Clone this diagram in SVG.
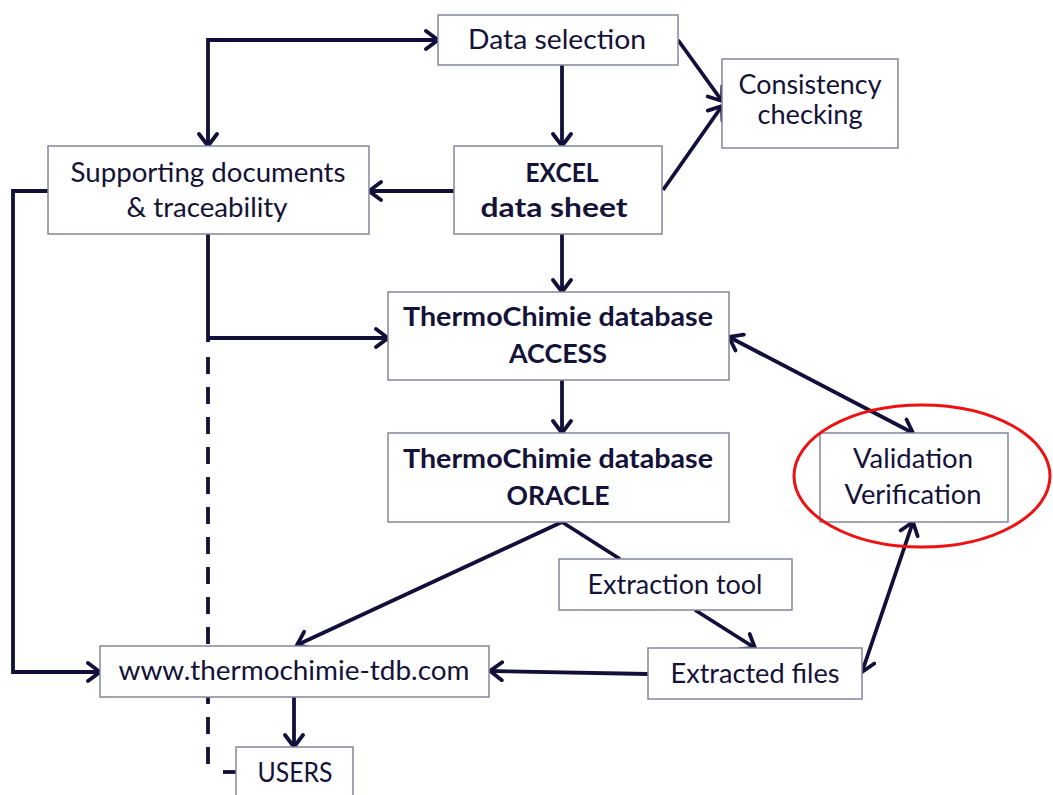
<svg xmlns="http://www.w3.org/2000/svg" width="1053" height="795" viewBox="0 0 1053 795">
<style>
.box{fill:#ffffff;stroke:#85859f;stroke-width:1.5}
.t{font-family:Lato,"Liberation Sans",sans-serif;font-size:26px;fill:#141238;text-anchor:middle}
.b{font-weight:bold}
.c{fill:none;stroke:#120f3a;stroke-width:3.8}
.d{fill:none;stroke:#120f3a;stroke-width:3.8;stroke-dasharray:17 13}
</style>
<defs>
<marker id="arr" viewBox="0 0 16 22" refX="14" refY="11" markerWidth="16" markerHeight="22" markerUnits="userSpaceOnUse" orient="auto-start-reverse">
<path d="M2,2 L14,11 L2,20" fill="none" stroke="#120f3a" stroke-width="3.8" stroke-linecap="round" stroke-linejoin="miter"/>
</marker>
</defs>
<g id="connectors">
<path class="d" d="M208,357 V770"/>
<path class="c" d="M223,772 H238"/>
<path class="c" d="M208,146 V40 H438" marker-start="url(#arr)" marker-end="url(#arr)"/>
<path class="c" d="M562,65 V146" marker-end="url(#arr)"/>
<path class="c" d="M678,40 L722,101" marker-end="url(#arr)"/>
<path class="c" d="M663,190 L722,106" marker-end="url(#arr)"/>
<path class="c" d="M454,191 H369" marker-end="url(#arr)"/>
<path class="c" d="M562,234 V292" marker-end="url(#arr)"/>
<path class="c" d="M208,234 V342"/>
<path class="c" d="M208,338 H388" marker-end="url(#arr)"/>
<path class="c" d="M48,191 H13 V672 H100" marker-end="url(#arr)"/>
<path class="c" d="M562,380 V433" marker-end="url(#arr)"/>
<path class="c" d="M729,337 L913,433" marker-start="url(#arr)" marker-end="url(#arr)"/>
<path class="c" d="M562,522 L297,645" marker-end="url(#arr)"/>
<path class="c" d="M562,522 L620,559"/>
<path class="c" d="M695,610 L755,648" marker-end="url(#arr)"/>
<path class="c" d="M648,674 L490,671" marker-end="url(#arr)"/>
<path class="c" d="M913,522 L862,672" marker-start="url(#arr)" marker-end="url(#arr)"/>
<path class="c" d="M294,697 V747" marker-end="url(#arr)"/>
</g>
<g id="data-selection"><rect class="box" x="438" y="15" width="240" height="50"/><text class="t" x="557" y="49" textLength="178" lengthAdjust="spacingAndGlyphs">Data selection</text></g>
<g id="consistency"><rect class="box" x="722" y="59" width="176" height="89"/><text class="t" x="810" y="94" textLength="143" lengthAdjust="spacingAndGlyphs">Consistency</text><text class="t" x="810" y="124" textLength="105" lengthAdjust="spacingAndGlyphs">checking</text></g>
<g id="supporting"><rect class="box" x="48" y="146" width="321" height="88"/><text class="t" x="208" y="182" textLength="275" lengthAdjust="spacingAndGlyphs">Supporting documents</text><text class="t" x="207" y="217" textLength="161" lengthAdjust="spacingAndGlyphs">&amp; traceability</text></g>
<g id="excel"><rect class="box" x="454" y="146" width="208" height="88"/><text class="t b" x="562" y="182" textLength="73" lengthAdjust="spacingAndGlyphs">EXCEL</text><text class="t b" x="554" y="217" textLength="147" lengthAdjust="spacingAndGlyphs">data sheet</text></g>
<g id="access"><rect class="box" x="388" y="292" width="341" height="88"/><text class="t b" x="558" y="326" textLength="310" lengthAdjust="spacingAndGlyphs">ThermoChimie database</text><text class="t b" x="558" y="363" textLength="98" lengthAdjust="spacingAndGlyphs">ACCESS</text></g>
<g id="oracle"><rect class="box" x="388" y="433" width="341" height="89"/><text class="t b" x="558" y="468" textLength="310" lengthAdjust="spacingAndGlyphs">ThermoChimie database</text><text class="t b" x="558" y="505" textLength="103" lengthAdjust="spacingAndGlyphs">ORACLE</text></g>
<g id="validation"><rect class="box" x="820" y="433" width="188" height="89"/><text class="t" x="913" y="468" textLength="120" lengthAdjust="spacingAndGlyphs">Validation</text><text class="t" x="913" y="504" textLength="137" lengthAdjust="spacingAndGlyphs">Verification</text><ellipse cx="922" cy="476" rx="128" ry="71" fill="none" stroke="#ee1111" stroke-width="3"/></g>
<g id="extraction-tool"><rect class="box" x="559" y="559" width="233" height="51"/><text class="t" x="675" y="594" textLength="175" lengthAdjust="spacingAndGlyphs">Extraction tool</text></g>
<g id="extracted-files"><rect class="box" x="648" y="648" width="214" height="51"/><text class="t" x="755" y="683" textLength="169" lengthAdjust="spacingAndGlyphs">Extracted files</text></g>
<g id="website"><rect class="box" x="100" y="646" width="389" height="51"/><text class="t" x="294" y="680" textLength="351" lengthAdjust="spacingAndGlyphs">www.thermochimie-tdb.com</text></g>
<g id="users"><rect class="box" x="236" y="747" width="117" height="60"/><text class="t" x="295" y="782" textLength="75" lengthAdjust="spacingAndGlyphs">USERS</text></g>
</svg>
